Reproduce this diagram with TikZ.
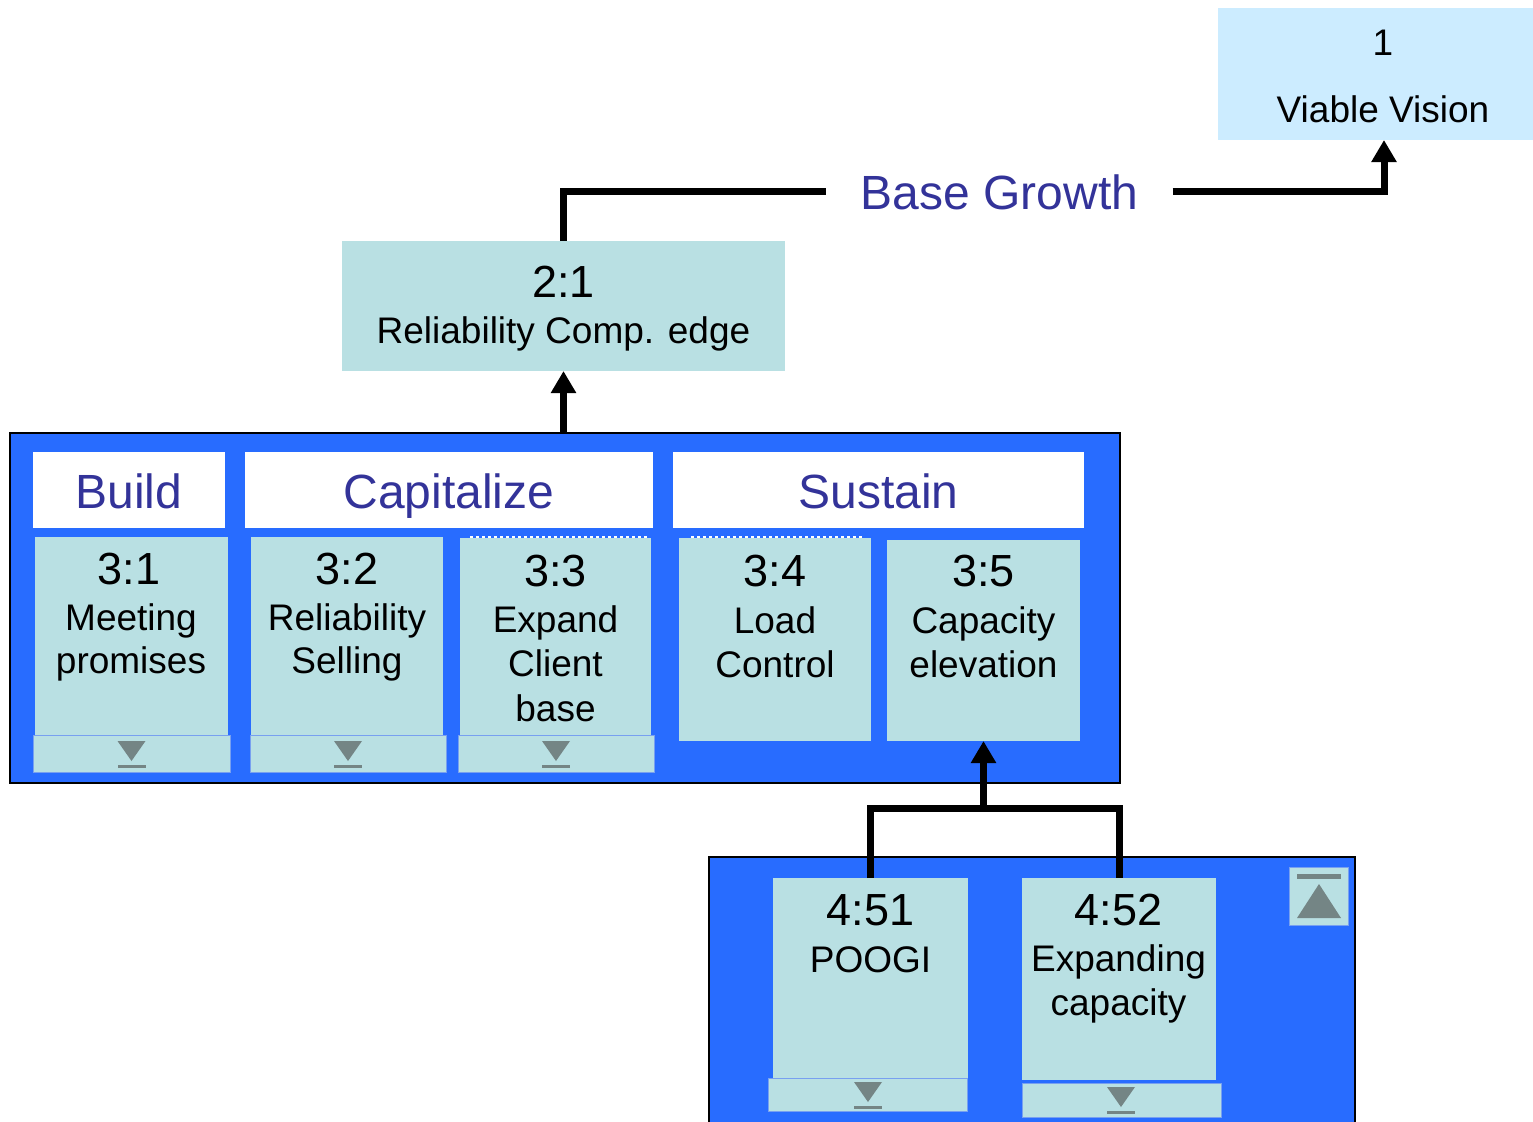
\documentclass[tikz,border=0pt]{standalone}
\usepackage{fontspec}
\setmainfont{Liberation Sans}
\usetikzlibrary{arrows.meta}
\definecolor{panelblue}{RGB}{40,108,255}
\definecolor{cardfill}{RGB}{185,224,227}
\definecolor{visionfill}{RGB}{204,236,255}
\definecolor{headblue}{RGB}{51,51,153}
\definecolor{glyphgrey}{RGB}{116,133,133}
\definecolor{edgeblue}{RGB}{120,160,240}
\newdimen\unitpx \unitpx=0.5pt
\begin{document}
\begin{tikzpicture}[x=0.5pt,y=-0.5pt,
  box/.style={anchor=north west,inner sep=0pt,outer sep=0pt},
  boxsize/.style 2 args={minimum width=#1*\unitpx,minimum height=#2*\unitpx},
  card/.style={box,fill=cardfill},
  footer/.style={box,fill=cardfill,draw=edgeblue,line width=0.3pt},
  panel/.style={box,fill=panelblue,draw=black,line width=1.2pt},
  headbox/.style={box,fill=white},
  num/.style={font=\fontsize{22.5}{27}\selectfont,anchor=base,inner sep=0pt},
  word/.style={font=\fontsize{18.5}{22}\selectfont,anchor=base,inner sep=0pt},
  head/.style={font=\fontsize{24}{29}\selectfont,text=headblue,anchor=base,inner sep=0pt},
  wire/.style={line width=3.5pt},
  conn/.style={wire,-{Triangle[width=12pt,length=11pt]}},
  dots/.style={white,line width=1pt,dash pattern=on 1.5pt off 1.5pt},
  downmark/.pic={\fill[glyphgrey] (-14,0) -- (14,0) -- (0,20) -- cycle;
                 \fill[glyphgrey] (-14,24) rectangle (14,27);},
]
\useasboundingbox (0,0) rectangle (1533,1121);

% top level
\node[box,fill=visionfill,boxsize={332}{132}] (vv) at (1218,8) {};
\node[word] (vv1) at (1383,55) {1};
\node[word] (vv2) at (1383,122) {Viable Vision};

% level 2
\node[card,boxsize={443}{130}] (r21) at (342,241) {};
\node[num] (r21a) at (563.5,297) {2:1};
\node[word] (r21b) at (563.5,343) {Reliability Comp. edge};

\node[head,inner xsep=34*\unitpx] (bg) at (999.5,209) {Base Growth};
\draw[wire] (r21.north) |- (bg.west);
\draw[conn] (bg.east) -| (vv.south);

% level 3 panel
\node[panel,boxsize={1110}{350}] (p3) at (10,433) {};
\draw[conn] (p3.north -| r21.south) -- (r21.south);

\node[headbox,boxsize={192}{76}] (hb) at (33,452) {};
\node[headbox,boxsize={408}{76}] (hc) at (245,452) {};
\node[headbox,boxsize={411}{76}] (hs) at (673,452) {};
\node[head] (hbt) at (129,508) {Build};
\node[head] (hct) at (449,508) {Capitalize};
\node[head] (hst) at (878.5,508) {Sustain};

% cards
\node[card,boxsize={193}{205}] (c31) at (35,537) {};
\node[card,boxsize={192}{205}] (c32) at (251,537) {};
\node[card,boxsize={191}{204}] (c33) at (460,538) {};
\node[card,boxsize={192}{203}] (c34) at (679,538) {};
\node[card,boxsize={193}{201}] (c35) at (887,540) {};
\draw[dots] (470,537) -- (648,537);
\draw[dots] (691,537) -- (862,537);

\node[footer,boxsize={197}{37}] (f31) at (33,735) {};
\node[footer,boxsize={196}{37}] (f32) at (250,735) {};
\node[footer,boxsize={196}{37}] (f33) at (458,735) {};
\pic at (131.5,741) {downmark};
\pic at (348,741) {downmark};
\pic at (556,741) {downmark};

\node[num] at (129,584) {3:1};
\node[word] at (131,630) {Meeting};
\node[word] at (131,673) {promises};
\node[num] at (347,584) {3:2};
\node[word] at (347,630) {Reliability};
\node[word] at (347,673) {Selling};
\node[num] at (555.5,586) {3:3};
\node[word] at (555.5,632) {Expand};
\node[word] at (555.5,676) {Client};
\node[word] at (555.5,721) {base};
\node[num] at (775,586) {3:4};
\node[word] at (775,633) {Load};
\node[word] at (775,677) {Control};
\node[num] at (983.5,586) {3:5};
\node[word] at (983.5,633) {Capacity};
\node[word] at (983.5,677) {elevation};

% level 4 panel
\node[panel,boxsize={646}{300}] (p4) at (709,857) {};
\node[card,boxsize={195}{200}] (c451) at (773,878) {};
\node[card,boxsize={194}{202}] (c452) at (1022,878) {};
\node[footer,boxsize={199}{33}] (f451) at (768,1078) {};
\node[footer,boxsize={199}{34}] (f452) at (1022,1083) {};
\pic at (868,1082) {downmark};
\pic at (1121,1087) {downmark};

\node[num] at (870.5,925) {4:51};
\node[word] at (870.5,972) {POOGI};
\node[num] at (1118.5,925) {4:52};
\node[word] at (1118.5,971) {Expanding};
\node[word] at (1118.5,1015) {capacity};

% collapse button
\node[box,fill=cardfill,draw=edgeblue,line width=0.5pt,boxsize={59}{58}] (up) at (1289,867) {};
\fill[glyphgrey] (1297,874) rectangle (1341,879);
\fill[glyphgrey] (1297,918) -- (1341,918) -- (1319,884) -- cycle;

% level 4 to level 3
\coordinate (join) at (983.5,808);
\draw[wire] (c451.north) |- (join) -| (c452.north);
\draw[conn] (join) -- (c35.south);
\end{tikzpicture}
\end{document}
